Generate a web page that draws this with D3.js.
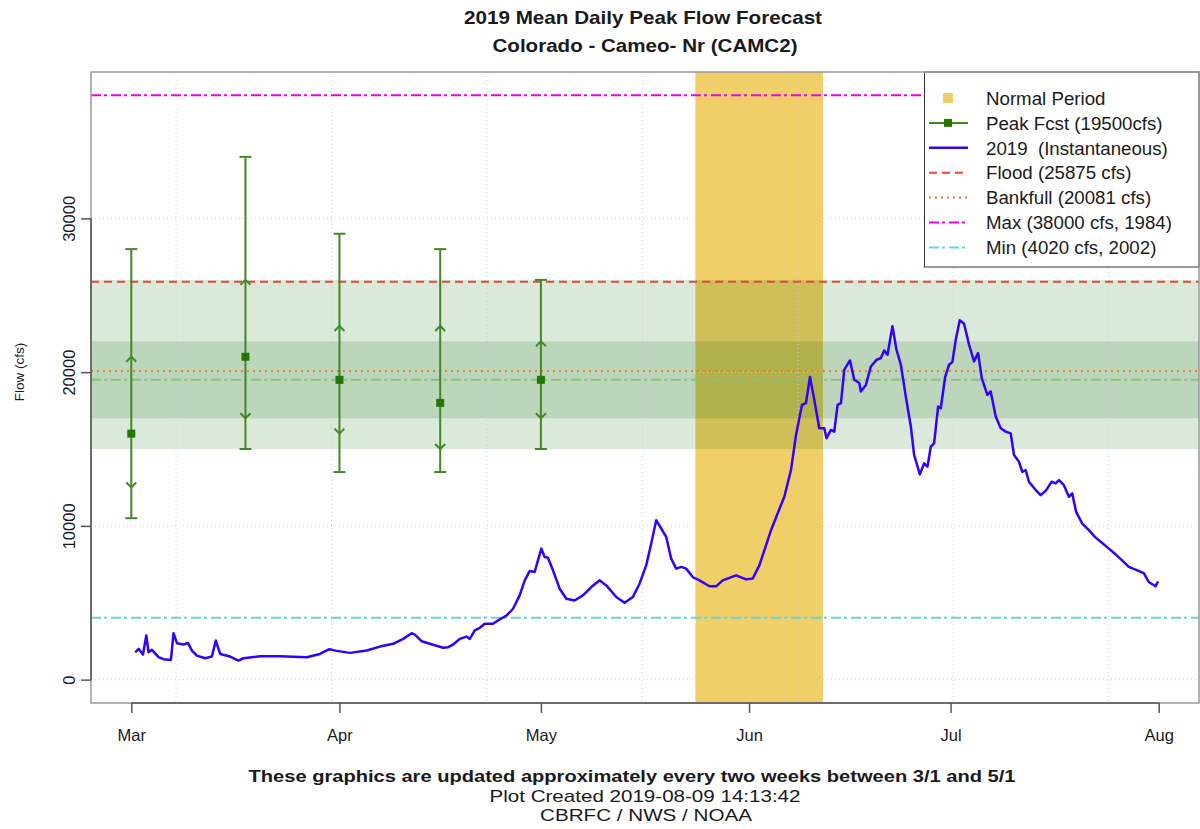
<!DOCTYPE html>
<html>
<head>
<meta charset="utf-8">
<script src="https://cdn.jsdelivr.net/npm/d3@7"></script>
<style>
  body { margin: 0; background: #fff; }
  text { font-family: "Liberation Sans", Arial, sans-serif; fill: #1a1a1a; }
</style>
</head>
<body>
<svg width="1200" height="829"></svg>
<script>
// forecast issue dates and the exceedance values (10%, 30%, most probable, 70%, 90%)
var fcstDates = ["2019-03-01", "2019-03-18", "2019-04-01", "2019-04-16", "2019-05-01"];
var fcst10  = [28000, 34000, 29000, 28000, 26000];
var fcst30  = [21000, 26000, 23000, 23000, 22000];
var fcstMid = [16000, 21000, 19500, 18000, 19500];
var fcst70  = [12500, 17000, 16000, 15000, 17000];
var fcst90  = [10500, 15000, 13500, 13500, 15000];

// reference flows
var floodFlow = 25875, bankfullFlow = 20081, maxFlow = 38000, minFlow = 4020, peakFcst = 19500;
var normalPeriod = ["2019-05-24", "2019-06-12"];

// axis ticks
var monthTicks = ["2019-03-01", "2019-04-01", "2019-05-01", "2019-06-01", "2019-07-01", "2019-08-01"];
var yTicks = [0, 10000, 20000, 30000];
var gridEpoch = [1552e6, 1554e6, 1556e6, 1558e6, 1560e6, 1562e6, 1564e6]; // seconds, MST plot
var tzShiftHours = -7;

// 2019 observed instantaneous flow: days after Mar 1 and cfs
var flowDay = [0.59,1.09,1.74,2.23,2.57,3.08,4.06,4.80,5.90,6.29,6.80,7.78,8.43,9.03,9.77,11.00,12.00,12.59,13.23,14.72,15.96,16.70,19.18,22.16,26.13,28.10,29.49,30.59,32.57,35.05,37.03,39.00,40.49,41.74,42.23,43.23,44.46,46.44,47.18,47.93,48.92,49.92,50.41,51.15,51.90,52.64,53.87,54.77,55.87,56.85,57.84,58.59,59.33,60.07,60.42,61.07,61.56,62.05,62.80,63.79,64.79,66.02,67.26,68.51,69.74,70.74,72.22,73.46,74.69,75.69,76.68,77.43,78.17,78.91,79.66,80.40,81.15,81.89,82.63,83.61,84.61,86.10,87.09,88.07,90.07,91.55,92.54,93.53,95.27,96.25,97.25,98.24,98.99,99.88,100.47,101.07,101.71,102.45,103.20,103.54,104.19,104.68,105.18,105.68,106.17,107.02,107.66,108.40,108.65,109.40,110.14,110.97,111.63,112.12,112.61,113.35,113.95,114.60,115.34,116.09,116.58,117.43,118.07,118.56,119.06,119.55,120.15,120.55,121.19,121.78,122.27,122.78,123.37,124.01,124.76,125.50,126.10,126.65,127.48,127.98,128.73,129.47,130.21,130.96,131.45,132.19,132.68,133.19,133.68,134.68,135.42,136.17,137.06,137.65,138.14,138.88,139.63,140.12,140.71,141.61,142.60,143.60,144.58,145.58,146.57,147.55,148.55,149.55,150.78,151.52,152.52,152.91];
var flowCfs = [1780,2000,1630,2870,1780,1940,1460,1330,1280,3020,2370,2280,2390,1890,1560,1390,1500,2540,1670,1500,1240,1390,1520,1520,1460,1670,1980,1870,1740,1890,2150,2330,2650,3020,2930,2500,2330,2070,2110,2280,2650,2800,2650,3200,3370,3630,3630,3890,4170,4610,5480,6460,7060,7000,7540,8520,7980,7930,7110,5910,5260,5150,5480,6020,6460,6130,5370,5000,5370,6240,7430,8850,10370,9830,9280,7870,7220,7330,7220,6670,6460,6070,6070,6460,6780,6520,6570,7430,9720,10810,11890,13630,15910,17870,17980,19680,18200,16350,16350,15700,16240,16130,17870,17980,20150,20760,19500,19290,18740,19170,20370,20800,20920,21410,21130,22980,21460,20480,18410,16460,14610,13350,14070,13850,15150,15370,17760,17650,19680,20480,20650,22110,23370,23150,21780,20700,21240,19610,18520,18740,17110,16350,16130,16020,14610,14170,13520,13630,12870,12330,12000,12280,12870,12760,12980,12650,11890,12110,10910,10150,9720,9240,8890,8520,8150,7760,7330,7150,6930,6350,6070,6390];

var legendLabels = ["Normal Period", "Peak Fcst (19500cfs)", "2019  (Instantaneous)", "Flood (25875 cfs)",
                    "Bankfull (20081 cfs)", "Max (38000 cfs, 1984)", "Min (4020 cfs, 2002)"];

var svg = d3.select("svg");
var pLeft = 91, pRight = 1199, pTop = 72, pBottom = 703;
var parse = d3.utcParse("%Y-%m-%d");
var mar1 = parse("2019-03-01");

var x = d3.scaleUtc()
  .domain([d3.utcDay.offset(parse(monthTicks[0]), -6), d3.utcDay.offset(parse(monthTicks[5]), 6)])
  .range([pLeft, pRight]);
var y = d3.scaleLinear().domain([-1520, 39520]).range([pBottom, pTop]);

var yellow = "#F0CF68", fcstGreen = "#3f8a22", blue = "#3300ff";
var colFlood = "#e8473f", colBank = "#f07b28", colMax = "#ee00ee", colMin = "#6cd4d0", colPk = "#8fbf7f";
var dotdash = "10,3,3,4";

svg.append("clipPath").attr("id", "clip")
  .append("rect").attr("x", pLeft).attr("y", pTop).attr("width", pRight - pLeft).attr("height", pBottom - pTop);
var plot = svg.append("g").attr("clip-path", "url(#clip)");

// normal period
plot.append("rect")
  .attr("x", x(parse(normalPeriod[0]))).attr("y", pTop)
  .attr("width", x(parse(normalPeriod[1])) - x(parse(normalPeriod[0])))
  .attr("height", pBottom - pTop)
  .attr("fill", yellow);

// forecast bands from the latest forecast
var last = fcstMid.length - 1;
[[fcst90[last], fcst10[last]], [fcst70[last], fcst30[last]]].forEach(function(b) {
  plot.append("rect")
    .attr("x", pLeft).attr("width", pRight - pLeft)
    .attr("y", y(b[1])).attr("height", y(b[0]) - y(b[1]))
    .attr("fill", "#006400").attr("fill-opacity", 0.14);
});

// grid
plot.selectAll(".gy").data(yTicks).enter().append("line")
  .attr("x1", pLeft).attr("x2", pRight).attr("y1", function(d) { return y(d); }).attr("y2", function(d) { return y(d); })
  .attr("stroke", "#cfcfcf").attr("stroke-dasharray", "1,3");
plot.selectAll(".gx").data(gridEpoch).enter().append("line")
  .attr("x1", function(d) { return x(new Date(d * 1000 + tzShiftHours * 3600000)); })
  .attr("x2", function(d) { return x(new Date(d * 1000 + tzShiftHours * 3600000)); })
  .attr("y1", pTop).attr("y2", pBottom)
  .attr("stroke", "#cfcfcf").attr("stroke-dasharray", "1,3");

// reference lines
function hline(v, col, dash, w) {
  plot.append("line").attr("x1", pLeft).attr("x2", pRight).attr("y1", y(v)).attr("y2", y(v))
    .attr("stroke", col).attr("stroke-width", w || 2).attr("stroke-dasharray", dash);
}
hline(maxFlow, colMax, dotdash);
hline(floodFlow, colFlood, "8,5");
hline(peakFcst, colPk, dotdash);
hline(bankfullFlow, colBank, "2,4");
hline(minFlow, colMin, dotdash);

// forecast error bars
var fc = plot.append("g").attr("stroke", fcstGreen).attr("stroke-width", 2).attr("fill", "none");
fcstDates.forEach(function(d, i) {
  var cx = x(parse(d));
  fc.append("line").attr("x1", cx).attr("x2", cx).attr("y1", y(fcst90[i])).attr("y2", y(fcst10[i]));
  [fcst90[i], fcst10[i]].forEach(function(v) {
    fc.append("line").attr("x1", cx - 6).attr("x2", cx + 6).attr("y1", y(v)).attr("y2", y(v));
  });
  var yu = y(fcst30[i]), yd = y(fcst70[i]);
  fc.append("path").attr("d", "M" + (cx - 5) + "," + (yu + 5) + "L" + cx + "," + yu + "L" + (cx + 5) + "," + (yu + 5));
  fc.append("path").attr("d", "M" + (cx - 5) + "," + (yd - 5) + "L" + cx + "," + yd + "L" + (cx + 5) + "," + (yd - 5));
  plot.append("rect").attr("x", cx - 4).attr("y", y(fcstMid[i]) - 4).attr("width", 8).attr("height", 8)
    .attr("fill", "#237800");
});

// observed flow
var flow = flowDay.map(function(d, i) { return { date: new Date(+mar1 + d * 86400000), v: flowCfs[i] }; });
plot.append("path").datum(flow)
  .attr("fill", "none").attr("stroke", blue).attr("stroke-width", 2.5).attr("stroke-linejoin", "round")
  .attr("d", d3.line().x(function(d) { return x(d.date); }).y(function(d) { return y(d.v); }));

// legend
var lg = svg.append("g");
lg.append("rect").attr("x", 924.5).attr("y", pTop).attr("width", pRight - 924.5).attr("height", 267 - pTop)
  .attr("fill", "#fff").attr("stroke", "#333");
var rowY = function(i) { return 98 + i * 24.9; };
lg.append("rect").attr("x", 943).attr("y", rowY(0) - 5).attr("width", 10).attr("height", 10).attr("fill", yellow);
lg.append("line").attr("x1", 929).attr("x2", 968).attr("y1", rowY(1)).attr("y2", rowY(1))
  .attr("stroke", fcstGreen).attr("stroke-width", 2);
lg.append("rect").attr("x", 944).attr("y", rowY(1) - 4).attr("width", 8).attr("height", 8).attr("fill", "#237800");
[[blue, null], [colFlood, "8,5"], [colBank, "2,4"], [colMax, dotdash], [colMin, dotdash]].forEach(function(s, i) {
  lg.append("line").attr("x1", 929).attr("x2", 968).attr("y1", rowY(i + 2)).attr("y2", rowY(i + 2))
    .attr("stroke", s[0]).attr("stroke-width", s[1] ? 2 : 2.5).attr("stroke-dasharray", s[1]);
});
lg.selectAll(".lt").data(legendLabels).enter().append("text")
  .attr("x", 986).attr("y", function(d, i) { return rowY(i); }).attr("dy", "0.36em")
  .style("font-size", "18.7px").style("white-space", "pre").text(function(d) { return d; });

// box
svg.append("rect").attr("x", pLeft).attr("y", pTop).attr("width", pRight - pLeft).attr("height", pBottom - pTop)
  .attr("fill", "none").attr("stroke", "#999").attr("stroke-width", 1.5);

// axes
var xAxis = svg.append("g").attr("transform", "translate(0," + pBottom + ")")
  .call(d3.axisBottom(x).tickValues(monthTicks.map(parse)).tickFormat(d3.utcFormat("%b")).tickSize(10).tickPadding(16));
xAxis.select(".domain").remove();
xAxis.append("line").attr("x1", x(parse(monthTicks[0]))).attr("x2", x(parse(monthTicks[5])))
  .attr("stroke", "#555").attr("stroke-width", 1.5);
xAxis.selectAll(".tick line").attr("stroke", "#555").attr("stroke-width", 1.5);
xAxis.selectAll("text").style("font-size", "16.5px").attr("fill", "#1a1a1a");

var yAxis = svg.append("g").attr("transform", "translate(" + pLeft + ",0)")
  .call(d3.axisLeft(y).tickValues(yTicks).tickFormat(d3.format("d")).tickSize(10));
yAxis.select(".domain").remove();
yAxis.append("line").attr("y1", y(yTicks[0])).attr("y2", y(yTicks[3])).attr("stroke", "#555").attr("stroke-width", 1.5);
yAxis.selectAll(".tick line").attr("stroke", "#555").attr("stroke-width", 1.5);
yAxis.selectAll("text").style("font-size", "16.5px").attr("fill", "#1a1a1a")
  .attr("x", 0).attr("dy", 0).attr("text-anchor", "middle").attr("transform", "translate(-16,0) rotate(-90)");

svg.append("text").attr("transform", "translate(24,372) rotate(-90)").attr("text-anchor", "middle")
  .style("font-size", "13.5px").text("Flow (cfs)");

// titles and footer (condensed like the original)
function label(tx, ty, size, bold, len, s) {
  svg.append("text").attr("x", tx).attr("y", ty).attr("text-anchor", "middle")
    .style("font-size", size + "px").style("font-weight", bold ? "bold" : "normal")
    .attr("textLength", len).attr("lengthAdjust", "spacingAndGlyphs").text(s);
}
label(643, 24, 19, true, 358, "2019 Mean Daily Peak Flow Forecast");
label(645, 52, 19, true, 305, "Colorado - Cameo- Nr (CAMC2)");
label(632, 782, 17, true, 767, "These graphics are updated approximately every two weeks between 3/1 and 5/1");
label(645, 802, 17, false, 311, "Plot Created 2019-08-09 14:13:42");
label(646, 821, 17, false, 212, "CBRFC / NWS / NOAA");
</script>
</body>
</html>
